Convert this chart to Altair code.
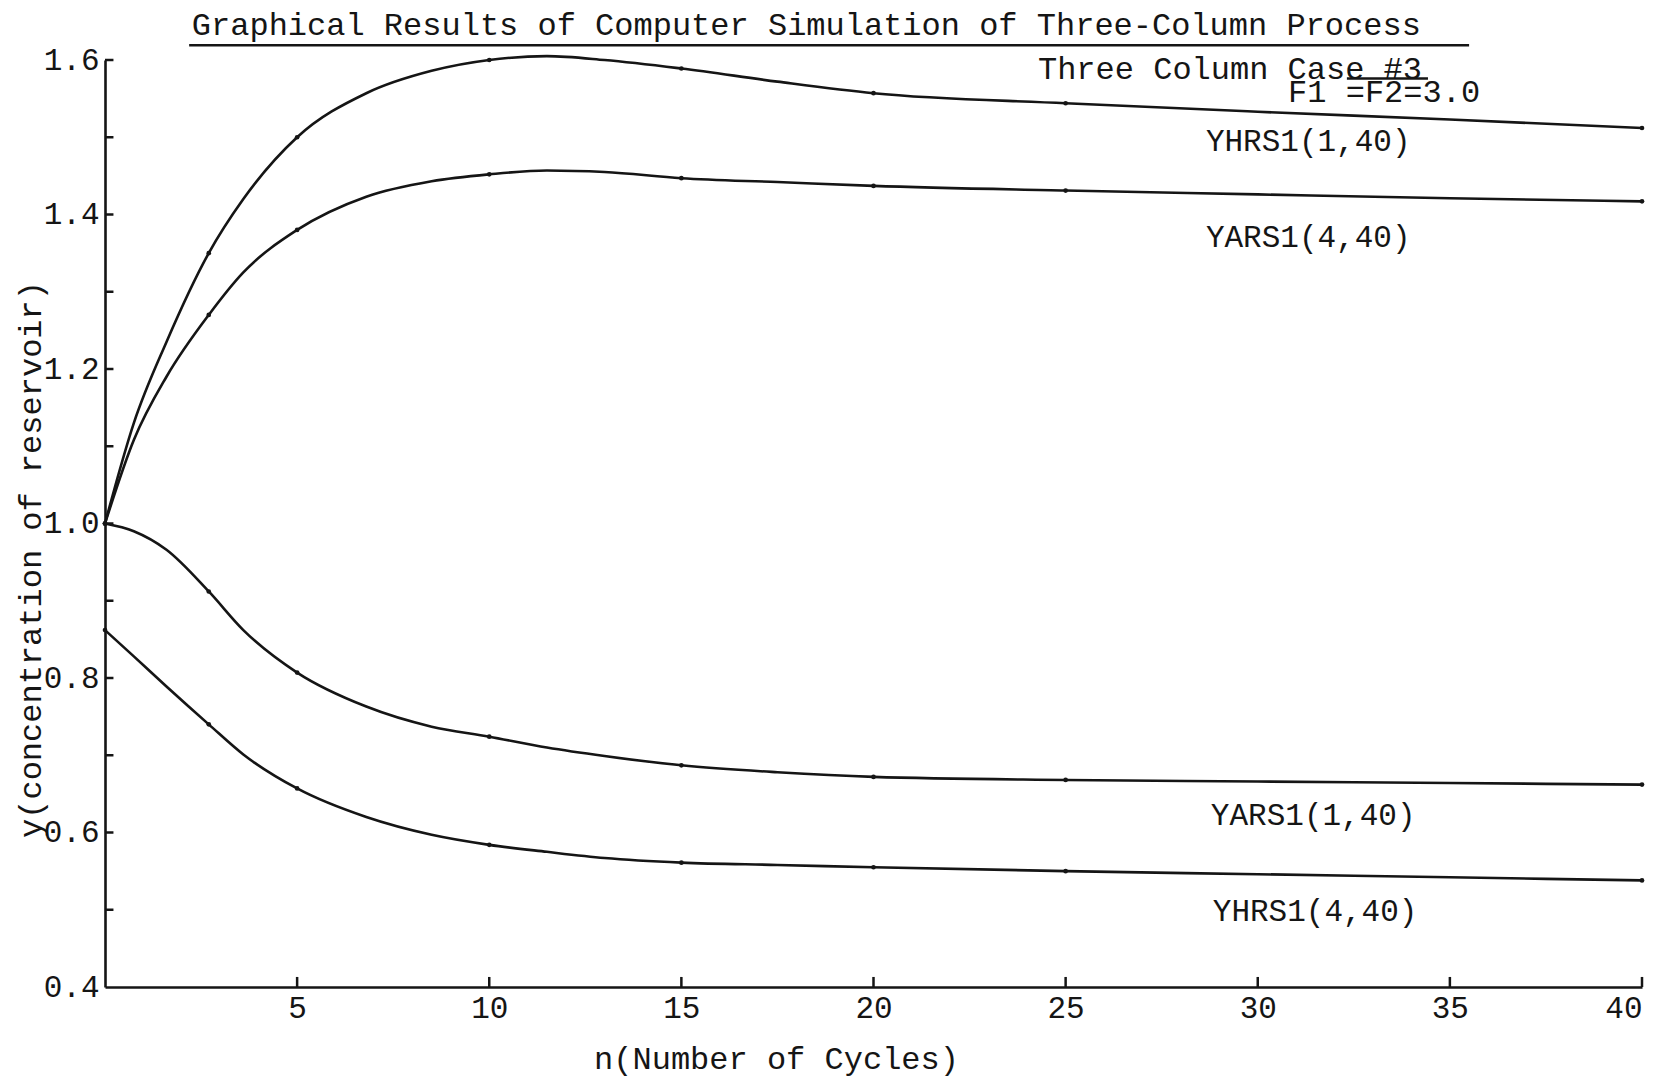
import altair as alt
import pandas as pd

# ---- data ----
n_cycles = [0, 0.75, 1.6, 2.7, 3.6, 5, 6.8, 8.5, 10, 11.5, 13, 15, 17.5, 20, 25, 30, 35, 40]
yhrs1_1_40 = [1.0, 1.13, 1.235, 1.35, 1.42, 1.50, 1.557, 1.586, 1.60, 1.605, 1.600, 1.589,
              1.572, 1.557, 1.544, 1.533, 1.523, 1.512]
yars1_4_40 = [1.0, 1.108, 1.19, 1.27, 1.325, 1.38, 1.423, 1.443, 1.452, 1.457, 1.455, 1.447,
              1.442, 1.437, 1.431, 1.426, 1.421, 1.417]
yars1_1_40 = [1.0, 0.99, 0.966, 0.912, 0.862, 0.807, 0.763, 0.737, 0.724, 0.710, 0.699, 0.687,
              0.678, 0.672, 0.668, 0.666, 0.664, 0.662]
yhrs1_4_40 = [0.862, 0.828, 0.789, 0.740, 0.701, 0.657, 0.62, 0.597, 0.584, 0.575, 0.567, 0.561,
              0.558, 0.555, 0.550, 0.546, 0.542, 0.538]
marked_cycles = [0, 2.7, 5, 10, 15, 20, 25, 40]

series_names = ["YHRS1(1,40)", "YARS1(4,40)", "YARS1(1,40)", "YHRS1(4,40)"]
series_values = [yhrs1_1_40, yars1_4_40, yars1_1_40, yhrs1_4_40]
label_x = [28.65, 28.65, 28.78, 28.83]
label_y = [1.494, 1.370, 0.621, 0.497]

x_tick_values = [5, 10, 15, 20, 25, 30, 35, 40]
y_label_values = [0.4, 0.6, 0.8, 1.0, 1.2, 1.4, 1.6]
y_tick_values = [0.5, 0.6, 0.7, 0.8, 0.9, 1.0, 1.1, 1.2, 1.3, 1.4, 1.5, 1.6]

note_texts = ["Graphical Results of Computer Simulation of Three-Column Process",
              "Three Column Case #3", "F1 =F2=3.0"]
note_x = [2.26, 24.28, 30.79]
note_y = [1.645, 1.588, 1.558]
underline_x = [2.19, 32.32]
underline_x2 = [35.5, 34.43]
underline_y = [1.619, 1.576]

# ---- tables ----
rows = []
for name, vals in zip(series_names, series_values):
    for n, v in zip(n_cycles, vals):
        rows.append({"series": name, "n": n, "y": v})
df = pd.DataFrame(rows)
labels_df = pd.DataFrame({"text": series_names, "x": label_x, "y": label_y})
notes_df = pd.DataFrame({"text": note_texts, "x": note_x, "y": note_y})
under_df = pd.DataFrame({"x": underline_x, "x2": underline_x2, "y": underline_y})
xt_df = pd.DataFrame({"v": x_tick_values})
yt_df = pd.DataFrame({"v": y_tick_values})

FONT = "Liberation Mono"
INK = "#151515"

xscale = alt.Scale(domain=[0, 40], nice=False, zero=False)
yscale = alt.Scale(domain=[0.4, 1.6], nice=False, zero=False)

x_enc = alt.X("n:Q", scale=xscale, axis=alt.Axis(
    values=x_tick_values, format="d", title="n(Number of Cycles)",
    ticks=False, labelPadding=6, titleX=671, titleY=71,
    titleAlign="center", titleBaseline="middle"))
y_enc = alt.Y("y:Q", scale=yscale, axis=alt.Axis(
    values=y_label_values, format=".1f", title="y(concentration of reservoir)",
    ticks=False, labelPadding=6, titleX=-75, titleY=499, titleAngle=270,
    titleAlign="center", titleBaseline="middle"))

lines = alt.Chart(df).mark_line(color=INK, strokeWidth=2.6, interpolate="monotone").encode(
    x=x_enc, y=y_enc, detail="series:N")

dots = alt.Chart(df).transform_filter(
    alt.FieldOneOfPredicate(field="n", oneOf=marked_cycles)
).mark_point(filled=True, color=INK, size=22, opacity=1).encode(
    x=alt.X("n:Q", scale=xscale), y=alt.Y("y:Q", scale=yscale))

xticks = alt.Chart(xt_df).transform_calculate(y0="0.4", y1="0.4 + 0.013").mark_rule(
    color=INK, strokeWidth=2.5).encode(
    x=alt.X("v:Q", scale=xscale), y=alt.Y("y0:Q", scale=yscale), y2="y1:Q")

yticks = alt.Chart(yt_df).transform_calculate(x0="0", x1="0.22").mark_rule(
    color=INK, strokeWidth=2.5).encode(
    y=alt.Y("v:Q", scale=yscale), x=alt.X("x0:Q", scale=xscale), x2="x1:Q")

labels = alt.Chart(labels_df).mark_text(
    font=FONT, fontSize=31, align="left", baseline="middle", color=INK).encode(
    x=alt.X("x:Q", scale=xscale), y=alt.Y("y:Q", scale=yscale), text="text:N")

notes = alt.Chart(notes_df).mark_text(
    font=FONT, fontSize=32, align="left", baseline="middle", color=INK).encode(
    x=alt.X("x:Q", scale=xscale), y=alt.Y("y:Q", scale=yscale), text="text:N")

underlines = alt.Chart(under_df).mark_rule(color=INK, strokeWidth=2.5).encode(
    x=alt.X("x:Q", scale=xscale), x2="x2:Q", y=alt.Y("y:Q", scale=yscale))

chart = alt.layer(lines, dots, xticks, yticks, labels, notes, underlines).properties(
    width=1537, height=927,
    autosize=alt.AutoSizeParams(type="none"),
    padding={"left": 97, "top": 52, "right": 12, "bottom": 92},
).configure_view(stroke=None).configure_axis(
    labelFont=FONT, labelFontSize=31, labelColor=INK,
    titleFont=FONT, titleFontSize=32, titleFontWeight="normal", titleColor=INK,
    grid=False, domainColor=INK, domainWidth=2.6,
)

chart.save("out.html", embed_options={"renderer": "svg", "actions": False})
